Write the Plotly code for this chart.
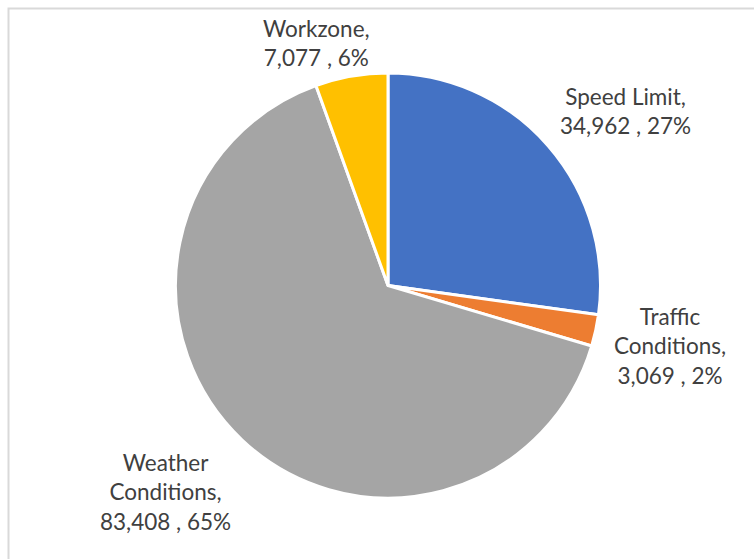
import math
import plotly.graph_objects as go

# Crash counts by contributing factor
categories = ["Speed Limit", "Traffic Conditions", "Weather Conditions", "Workzone"]
label_lines = [["Speed Limit,"], ["Traffic", "Conditions,"], ["Weather", "Conditions,"], ["Workzone,"]]
values = [34962, 3069, 83408, 7077]
colors = ["#4472C4", "#ED7D31", "#A5A5A5", "#FFC000"]

W, H = 754, 559
cx, cy, r = 388, 285.5, 212.5  # pie centre and radius in pixels
FONT_SIZE = 22.5
LINE_H = 28.5          # rendered line height of the label font
AREA_TOP = 14          # labels are kept below this pixel row

fig = go.Figure(go.Pie(
    labels=categories,
    values=values,
    marker=dict(colors=colors, line=dict(color="white", width=3)),
    sort=False,
    direction="clockwise",
    rotation=0,
    textinfo="none",
    hoverinfo="label+value+percent",
    showlegend=False,
    domain=dict(x=[(cx - r) / W, (cx + r) / W], y=[1 - (cy + r) / H, 1 - (cy - r) / H]),
))

# Data labels placed just outside each slice along its mid-angle
total = sum(values)
cum = 0
annotations = []
for lines, v in zip(label_lines, values):
    frac = v / total
    mid = (cum + frac / 2) * 2 * math.pi
    cum += frac
    s, c = math.sin(mid), math.cos(mid)
    rad = r * 1.06
    px = cx + rad * s
    py = cy - rad * c
    all_lines = lines + [f"{v:,} , {round(frac * 100)}%"]
    # rough label box size, used to push the box off the pie edge
    est_w = max(len(t) for t in all_lines) * FONT_SIZE * 0.5
    est_h = len(all_lines) * LINE_H
    label_x = px + math.copysign(min(1.0, abs(s) / 0.3), s) * est_w / 2
    label_y = py - math.copysign(min(1.0, abs(c) / 0.7), c) * est_h / 2
    label_y = max(label_y, AREA_TOP + est_h / 2)
    annotations.append(dict(
        x=label_x / W, y=1 - label_y / H, xref="paper", yref="paper",
        text="<br>".join(all_lines), showarrow=False,
        xanchor="center", yanchor="middle",
        align="center", font=dict(family="Lato", size=FONT_SIZE, color="#404040"),
    ))

fig.update_layout(
    width=W, height=H,
    margin=dict(l=0, r=0, t=0, b=0),
    paper_bgcolor="white",
    plot_bgcolor="white",
    annotations=annotations,
    shapes=[dict(
        type="rect", xref="paper", yref="paper",
        x0=8.5 / W, x1=1.2, y0=-0.2, y1=1 - 8.5 / H,
        line=dict(color="#D9D9D9", width=2), fillcolor="rgba(0,0,0,0)",
    )],
)

fig.write_html("out.html")
